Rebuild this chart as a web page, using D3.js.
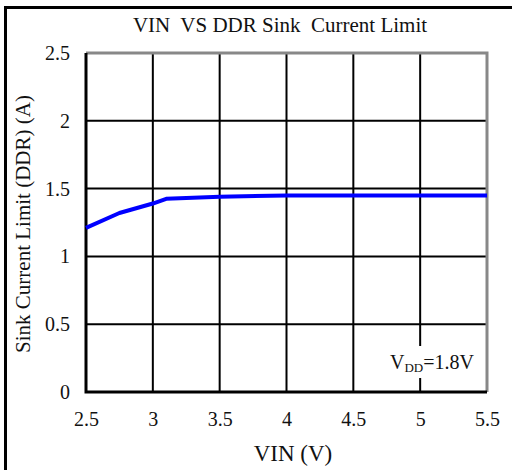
<!DOCTYPE html>
<html>
<head>
<meta charset="utf-8">
<script src="https://cdn.jsdelivr.net/npm/d3@7"></script>
<style>
  body { margin: 0; background: #fff; }
  svg text { font-family: "Liberation Serif", "DejaVu Serif", serif; fill: #111; }
</style>
</head>
<body>
<div id="chart"></div>
<script>
// data
const vin = [2.5, 2.75, 3.0, 3.1, 3.5, 4.0, 4.5, 5.0, 5.5];
const sinkLimit = [1.21, 1.32, 1.39, 1.425, 1.44, 1.45, 1.45, 1.45, 1.45];
const xTicks = [2.5, 3, 3.5, 4, 4.5, 5, 5.5];
const yTicks = [0, 0.5, 1, 1.5, 2, 2.5];

const width = 512, height = 470;
const margin = { top: 53, right: 25, bottom: 78, left: 86 };
const serif = '"Liberation Serif", "DejaVu Serif", serif';

const svg = d3.select("#chart")
  .append("svg")
  .attr("width", width)
  .attr("height", height);

// outer frame (only top and left edges are visible)
svg.append("path")
  .attr("d", `M5.5,${height} V7.5 H${width}`)
  .attr("fill", "none")
  .attr("stroke", "#000")
  .attr("stroke-width", 3);

const x = d3.scaleLinear().domain([2.5, 5.5]).range([margin.left, width - margin.right]);
const y = d3.scaleLinear().domain([0, 2.5]).range([height - margin.bottom, margin.top]);

// grid
const grid = svg.append("g");
grid.selectAll("line.v")
  .data(xTicks.slice(1, -1))
  .join("line")
  .attr("x1", d => x(d)).attr("x2", d => x(d))
  .attr("y1", y(2.5)).attr("y2", y(0))
  .attr("stroke", "#000").attr("stroke-width", 2);
grid.selectAll("line.h")
  .data(yTicks.slice(1, -1))
  .join("line")
  .attr("x1", x(2.5)).attr("x2", x(5.5))
  .attr("y1", d => y(d)).attr("y2", d => y(d))
  .attr("stroke", "#000").attr("stroke-width", 2);

// plot border: top/right gray, left/bottom black
svg.append("path")
  .attr("d", `M${x(2.5)},${y(2.5)} H${x(5.5)} V${y(0)}`)
  .attr("fill", "none").attr("stroke", "#888").attr("stroke-width", 3);
svg.append("path")
  .attr("d", `M${x(2.5)},${y(2.5)} V${y(0)} H${x(5.5)}`)
  .attr("fill", "none").attr("stroke", "#000").attr("stroke-width", 3);

// axes (labels only)
const xAxis = svg.append("g")
  .attr("transform", `translate(0,${y(0)})`)
  .call(d3.axisBottom(x).tickValues(xTicks).tickFormat(d3.format("")).tickSize(0).tickPadding(20));
const yAxis = svg.append("g")
  .attr("transform", `translate(${x(2.5)},0)`)
  .call(d3.axisLeft(y).tickValues(yTicks).tickFormat(d3.format("")).tickSize(0).tickPadding(16));
[xAxis, yAxis].forEach(g => {
  g.attr("font-family", serif).attr("font-size", 20);
  g.select(".domain").remove();
  g.selectAll("text")
    .style("font-family", serif)
    .style("font-size", "20px")
    .attr("fill", "#111");
});

// curve
svg.append("path")
  .datum(vin.map((v, i) => [v, sinkLimit[i]]))
  .attr("fill", "none")
  .attr("stroke", "#0000ff")
  .attr("stroke-width", 4)
  .attr("stroke-linejoin", "round")
  .attr("d", d3.line().x(d => x(d[0])).y(d => y(d[1])));

// note
svg.append("rect")
  .attr("x", 386).attr("y", 346).attr("width", 82).attr("height", 32)
  .attr("fill", "#fff");
const note = svg.append("text")
  .attr("x", 390).attr("y", 369)
  .style("font-size", "20px");
note.append("tspan").text("V");
note.append("tspan").attr("dy", 3).style("font-size", "13px").text("DD");
note.append("tspan").attr("dy", -3).text("=1.8V");

// titles
svg.append("text")
  .attr("x", 280).attr("y", 32)
  .attr("text-anchor", "middle")
  .style("font-size", "21px")
  .style("white-space", "pre")
  .text("VIN  VS DDR Sink  Current Limit");

svg.append("text")
  .attr("x", 293).attr("y", 461)
  .attr("text-anchor", "middle")
  .style("font-size", "23px")
  .text("VIN (V)");

svg.append("text")
  .attr("transform", "translate(30,224) rotate(-90)")
  .attr("text-anchor", "middle")
  .style("font-size", "21px")
  .text("Sink Current Limit (DDR) (A)");
</script>
</body>
</html>
